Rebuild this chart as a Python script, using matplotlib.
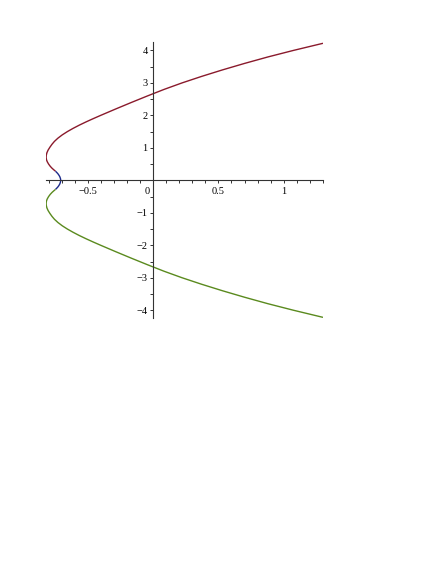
import matplotlib
matplotlib.use("Agg")
import matplotlib.pyplot as plt
from matplotlib.ticker import MultipleLocator, FixedLocator, FixedFormatter

plt.rcParams['font.family'] = ['Liberation Serif', 'DejaVu Serif']

# Upper branch
red_x = [-0.752, -0.764, -0.778, -0.792, -0.805, -0.815, -0.821, -0.824, -0.823,
         -0.818, -0.809, -0.795, -0.779, -0.760, -0.733, -0.700, -0.661, -0.617,
         -0.569, -0.517, -0.462, -0.405, -0.288, -0.168, -0.045, 0.082, 0.220,
         0.370, 0.530, 0.700, 0.880, 1.075, 1.303]
red_y = [0.28, 0.32, 0.37, 0.43, 0.50, 0.57, 0.63, 0.70, 0.77,
         0.85, 0.93, 1.02, 1.11, 1.20, 1.30, 1.40, 1.50, 1.60,
         1.70, 1.80, 1.90, 2.00, 2.20, 2.40, 2.60, 2.80, 3.00,
         3.20, 3.40, 3.60, 3.80, 4.00, 4.22]

# Middle piece
blue_x = [-0.752, -0.742, -0.733, -0.726, -0.720, -0.716, -0.713, -0.712,
          -0.713, -0.716, -0.720, -0.726, -0.733, -0.742, -0.752]
blue_y = [0.28, 0.24, 0.20, 0.16, 0.12, 0.08, 0.04, 0.0,
          -0.04, -0.08, -0.12, -0.16, -0.20, -0.24, -0.28]

# Lower branch
green_x = [-0.752, -0.764, -0.778, -0.792, -0.805, -0.815, -0.821, -0.824, -0.823,
           -0.818, -0.809, -0.795, -0.779, -0.760, -0.733, -0.700, -0.661, -0.617,
           -0.569, -0.517, -0.462, -0.405, -0.288, -0.168, -0.045, 0.082, 0.220,
           0.370, 0.530, 0.700, 0.880, 1.075, 1.303]
green_y = [-0.28, -0.32, -0.37, -0.43, -0.50, -0.57, -0.63, -0.70, -0.77,
           -0.85, -0.93, -1.02, -1.11, -1.20, -1.30, -1.40, -1.50, -1.60,
           -1.70, -1.80, -1.90, -2.00, -2.20, -2.40, -2.60, -2.80, -3.00,
           -3.20, -3.40, -3.60, -3.80, -4.00, -4.22]

x_ticks = [-0.5, 0, 0.5, 1]
x_labels = ['\u22120.5', '', '0.5', '1']
y_ticks = [-4, -3, -2, -1, 1, 2, 3, 4]
y_labels = ['\u22124', '\u22123', '\u22122', '\u22121', '1', '2', '3', '4']

fig = plt.figure(figsize=(4.36, 5.64), dpi=100)
ax = fig.add_axes([46 / 436, 1 - 318 / 564, 277 / 436, 276 / 564])

ax.plot(red_x, red_y, color='#8a1a2c', lw=1.0, solid_capstyle='butt')
ax.plot(blue_x, blue_y, color='#1c2a8a', lw=1.0, solid_capstyle='butt')
ax.plot(green_x, green_y, color='#5a8a1e', lw=1.0, solid_capstyle='butt')

ax.set_xlim(-0.825, 1.303)
ax.set_ylim(-4.24, 4.26)

for s in ['top', 'right']:
    ax.spines[s].set_visible(False)
ax.spines['left'].set_position('zero')
ax.spines['bottom'].set_position('zero')
for s in ['left', 'bottom']:
    ax.spines[s].set_color('#333333')
    ax.spines[s].set_linewidth(0.8)

ax.xaxis.set_major_locator(FixedLocator(x_ticks))
ax.xaxis.set_major_formatter(FixedFormatter(x_labels))
ax.xaxis.set_minor_locator(MultipleLocator(0.1))
ax.yaxis.set_major_locator(FixedLocator(y_ticks))
ax.yaxis.set_major_formatter(FixedFormatter(y_labels))
ax.yaxis.set_minor_locator(MultipleLocator(0.5))

ax.tick_params(which='both', direction='out', length=2.2, width=0.7,
               color='#333333', labelsize=7.5)
ax.tick_params(axis='x', which='major', pad=2.5)
ax.tick_params(axis='y', which='major', pad=2)

# origin label sits just left of the vertical axis
ax.annotate('0', xy=(0, 0), xytext=(-4.5, -5), textcoords='offset points',
            ha='center', va='top', fontsize=7.5)

fig.savefig('out.png', dpi=100)
plt.close(fig)
